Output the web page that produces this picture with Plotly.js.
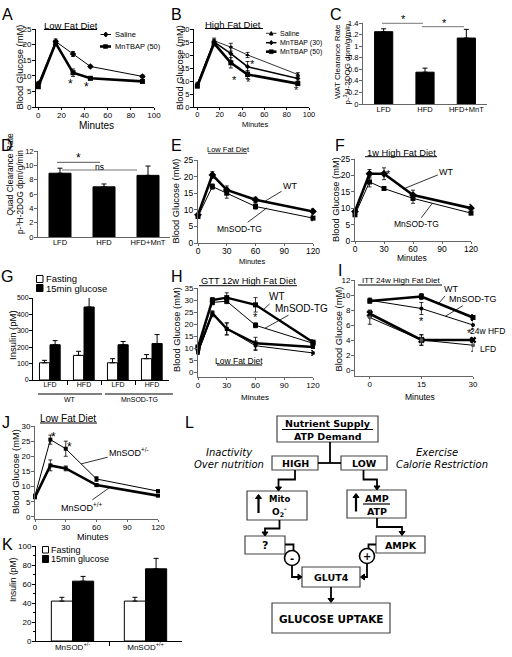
<!DOCTYPE html>
<html><head><meta charset="utf-8">
<script src="https://cdn.plot.ly/plotly-3.0.1.min.js"></script>
<style>html,body{margin:0;padding:0;background:#fff}#chart{width:512px;height:657px}</style>
</head><body><div id="chart"></div>
<script>
// ---------------- DATA ----------------
// A: low fat diet GTT
const minutesA = [0, 15, 30, 45, 90];
const salineA = [7.5, 21, 17, 13, 9.8];
const salineAErr = [0.5, 0.8, 0.8, 0.4, 0.4];
const mntbap50A = [6.5, 20.5, 11, 9.2, 8.2];
const mntbap50AErr = [0.5, 0.8, 1.2, 0.5, 0.4];
// B: high fat diet GTT
const minutesB = [0, 15, 30, 45, 90];
const salineB = [9, 25.5, 23, 20, 12.5];
const salineBErr = [0.5, 1, 1.5, 1, 0.7];
const mntbap30B = [8.5, 25, 20.5, 15.5, 11];
const mntbap30BErr = [0.5, 1, 2.8, 2, 1];
const mntbap50B = [8, 24.5, 17, 12.5, 9];
const mntbap50BErr = [0.5, 1, 2, 1.5, 0.5];
// C, D: clearance rates
const groupsCD = ['LFD', 'HFD', 'HFD+MnT'];
const watClearance = [1.25, 0.55, 1.14];
const watClearanceErr = [0.05, 0.07, 0.15];
const quadClearance = [8.9, 7.0, 8.6];
const quadClearanceErr = [0.7, 0.4, 1.3];
// E, F: GTT WT vs MnSOD-TG
const minutesEF = [0, 15, 30, 60, 120];
const wtE = [8.5, 20.5, 16, 13, 9.5];
const wtEErr = [0.5, 1, 1.2, 0.8, 0.8];
const tgE = [8, 17, 15, 11, 7.5];
const tgEErr = [0.5, 0.8, 1.5, 0.8, 0.8];
const wtF = [9, 20.5, 20.5, 14, 10];
const wtFErr = [0.5, 1.3, 1.8, 1.5, 1.2];
const tgF = [8, 18, 16, 13, 8.5];
const tgFErr = [0.5, 1.5, 0.5, 1.5, 0.5];
// G: insulin
const dietG = ['LFD', 'HFD', 'LFD', 'HFD'];
const genotypeG = ['WT', 'MnSOD-TG'];
const fastingG = [105, 150, 105, 130];
const fastingGErr = [15, 25, 25, 25];
const glucoseG = [215, 445, 215, 222];
const glucoseGErr = [25, 70, 20, 55];
// H: GTT 12w HFD
const minutesH = [0, 15, 30, 60, 120];
const wtHfdH = [10.5, 30, 31, 28, 12.5];
const wtHfdHErr = [0.5, 1, 2, 3, 1];
const tgHfdH = [10, 29, 29.5, 19.5, 12];
const tgHfdHErr = [0.5, 1, 1, 1, 0.5];
const wtLfdH = [9, 24.5, 18, 12, 10.5];
const wtLfdHErr = [0.5, 1, 2.5, 2.5, 0.5];
const tgLfdH = [8, 24, 18, 11, 8];
const tgLfdHErr = [0.5, 1, 2.5, 2, 1];
// I: ITT 24w HFD
const minutesI = [0, 15, 30];
const wtHfdI = [9.2, 9.8, 7];
const wtHfdIErr = [0.3, 0.4, 0.4];
const tgHfdI = [9.3, 8.2, 6];
const tgHfdIErr = [0.3, 0.8, 0.6];
const wtLfdI = [7.5, 4, 4];
const wtLfdIErr = [0.5, 0.7, 0.3];
const tgLfdI = [7, 4, 3.3];
const tgLfdIErr = [0.9, 0.7, 0.8];
// J: MnSOD+/- vs +/+
const minutesJ = [0, 15, 30, 60, 120];
const hetJ = [7, 25.5, 22.5, 12.5, 8.5];
const hetJErr = [0.5, 1.5, 2.5, 0.8, 0.5];
const wtJ = [6.5, 17, 16, 10.5, 7];
const wtJErr = [0.5, 1.8, 0.8, 0.5, 0.3];
// K: insulin
const genotypeK = ['MnSOD<sup>+/-</sup>', 'MnSOD<sup>+/+</sup>'];
const fastingK = [42, 42];
const fastingKErr = [4, 4];
const glucoseK = [63, 76];
const glucoseKErr = [5, 11];
// legend labels
const legendA = ['Saline', 'MnTBAP (50)'];
const legendB = ['Saline', 'MnTBAP (30)', 'MnTBAP (50)'];
const legendInsulin = ['Fasting', '15min glucose'];

// ---------------- HELPERS ----------------
const FONT = 'Liberation Sans, Arial, Helvetica, sans-serif';
const DJ = 'DejaVu Sans, Verdana, sans-serif';
const W = 512, H = 657;
const px = v => v / W;
const py = v => 1 - v / H;
const sfx = n => (n === 1 ? '' : String(n));

const layout = {
  width: W, height: H, margin: {l: 0, r: 0, t: 0, b: 0},
  paper_bgcolor: '#fff', plot_bgcolor: 'rgba(0,0,0,0)',
  font: {family: FONT, size: 8, color: '#000'},
  showlegend: false, annotations: [], shapes: []
};

function baseAxis(fs, col) {
  return {showline: true, linecolor: col || '#000', linewidth: 1, ticks: 'outside', ticklen: 3,
    tickwidth: 1, tickcolor: col || '#000', showgrid: false, zeroline: false, fixedrange: true,
    tickfont: {family: FONT, size: fs, color: '#000'}};
}
function plot(n, xr, yr, xo, yo, fs, col) {
  const s = sfx(n);
  layout['xaxis' + s] = Object.assign(baseAxis(fs, col), {domain: [px(xr[0]), px(xr[1])], anchor: 'y' + s,
    ticklen: 2, ticklabelstandoff: -2}, xo);
  layout['yaxis' + s] = Object.assign(baseAxis(fs, col), {domain: [py(yr[1]), py(yr[0])], anchor: 'x' + s,
    ticklabelstandoff: -1}, yo);
}
const traces = [];
function line(n, xs, ys, err, o) {
  const s = sfx(n);
  traces.push({
    type: 'scatter', mode: 'lines+markers', x: xs, y: ys, xaxis: 'x' + s, yaxis: 'y' + s,
    cliponaxis: false, showlegend: false, name: o.name || '',
    line: {color: '#000', width: o.w || 1},
    marker: {color: o.mc || '#000', symbol: o.sym || 'square', size: o.ms || 5},
    error_y: {type: 'data', array: err, visible: true, color: '#000', thickness: 0.8, width: 2}
  });
}
function bars(n, xs, ys, err, o) {
  const s = sfx(n);
  traces.push({
    type: 'bar', x: xs, y: ys, xaxis: 'x' + s, yaxis: 'y' + s, showlegend: false, name: o.name || '',
    width: o.width, offset: o.offset,
    marker: {color: o.fill, line: {color: '#000', width: 1}},
    error_y: {type: 'data', symmetric: false, array: err, arrayminus: err.map(() => 0), color: '#000', thickness: 1, width: 2.5}
  });
}
function txt(t, x, y, size, o) {
  layout.annotations.push(Object.assign({text: t, xref: 'paper', yref: 'paper', x: px(x), y: py(y),
    showarrow: false, xanchor: 'center', yanchor: 'middle',
    font: {family: FONT, size: size, color: '#000'}}, o || {}));
}
function ltxt(t, x, y, size) { txt(t, x, y, size, {xanchor: 'left'}); }
function rot(t, x, y, size) { txt(t, x, y, size, {textangle: -90}); }
function dtxt(t, n, x, y, size) {
  const s = sfx(n);
  layout.annotations.push({text: t, xref: 'x' + s, yref: 'y' + s, x: x, y: y, showarrow: false,
    font: {family: FONT, size: size, color: '#000'}});
}
function ptr(t, n, x, y, ax, ay, size) {
  const s = sfx(n);
  layout.annotations.push({text: t, xref: 'x' + s, yref: 'y' + s, x: x, y: y, ax: ax, ay: ay,
    showarrow: true, arrowhead: 0, arrowwidth: 0.8, arrowcolor: '#000', standoff: 0,
    font: {family: FONT, size: size, color: '#000'}});
}
function seg(x0, y0, x1, y1, w, c) {
  layout.shapes.push({type: 'line', xref: 'paper', yref: 'paper', x0: px(x0), y0: py(y0), x1: px(x1), y1: py(y1),
    line: {color: c || '#000', width: w || 1}});
}
function pathOf(pts, close) {
  return pts.map((p, i) => (i ? 'L' : 'M') + px(p[0]).toFixed(5) + ',' + py(p[1]).toFixed(5)).join(' ') + (close ? ' Z' : '');
}
function poly(pts, w) {
  layout.shapes.push({type: 'path', xref: 'paper', yref: 'paper', path: pathOf(pts), line: {color: '#000', width: w || 1.8}});
}
function fillPath(pts, fill) {
  layout.shapes.push({type: 'path', xref: 'paper', yref: 'paper', path: pathOf(pts, true), fillcolor: fill || '#000', line: {color: '#000', width: 1}});
}
function tri(x, y, dir) {
  const s = 4, h = 3;
  let p;
  if (dir === 'down') p = [[x - h, y - s], [x + h, y - s], [x, y]];
  else if (dir === 'up') p = [[x - h, y + s], [x + h, y + s], [x, y]];
  else if (dir === 'right') p = [[x - s, y - h], [x - s, y + h], [x, y]];
  else p = [[x + s, y - h], [x + s, y + h], [x, y]];
  fillPath(p);
}
function rect(x0, y0, x1, y1, fill, lw, lc) {
  layout.shapes.push({type: 'rect', xref: 'paper', yref: 'paper', x0: px(x0), x1: px(x1), y0: py(y1), y1: py(y0),
    line: {color: lc || '#000', width: lw == null ? 1 : lw}, fillcolor: fill || 'rgba(0,0,0,0)'});
}
function box(x0, y0, x1, y1) { rect(x0, y0, x1, y1, null, 1.2, '#444'); }
function circ(cx, cy, r) {
  layout.shapes.push({type: 'circle', xref: 'paper', yref: 'paper', x0: px(cx - r), x1: px(cx + r), y0: py(cy + r), y1: py(cy - r),
    line: {color: '#000', width: 1.6}, fillcolor: '#fff'});
}
function mark(x, y, sym, s) {
  if (sym === 'square') rect(x - s / 2, y - s / 2, x + s / 2, y + s / 2, '#000', 0.5);
  else if (sym === 'diamond') fillPath([[x, y - s / 2 - 0.5], [x + s / 2, y], [x, y + s / 2 + 0.5], [x - s / 2, y]]);
  else fillPath([[x, y - s / 2], [x + s / 2, y + s / 2], [x - s / 2, y + s / 2]]);
}
function legLine(x0, x1, y, w, sym, s, label, tx, fs) {
  seg(x0, y, x1, y, w);
  mark((x0 + x1) / 2, y, sym, s);
  ltxt(label, tx, y, fs);
}

// ---------------- AXES ----------------
const G1 = '#000', GR = '#666';
plot(1, [36, 154], [29, 107], {range: [-2, 100], tickvals: [0, 20, 40, 60, 80, 100]}, {range: [0, 25], dtick: 5}, 8, G1);
plot(2, [194, 309], [29, 107], {range: [-3, 100], dtick: 20}, {range: [0, 30], dtick: 5}, 7.5, G1);
plot(3, [363, 487], [23, 104], {type: 'category', ticks: ''}, {range: [0, 1.4], dtick: 0.2}, 7.5, GR);
plot(4, [38, 170], [151, 237], {type: 'category', ticks: ''}, {range: [0, 12], dtick: 2}, 7.5, GR);
plot(5, [198, 313], [160, 243], {range: [0, 120], dtick: 30}, {range: [0, 25], dtick: 5}, 8.5, GR);
plot(6, [355, 471], [159, 241], {range: [0, 120], dtick: 30}, {range: [0, 25], dtick: 5}, 8.5, GR);
plot(7, [33, 169], [298, 380], {range: [-0.5, 3.5], tickvals: [0, 1, 2, 3], ticktext: dietG, ticks: '',
  minor: {tickvals: [0.5, 1.5, 2.5], ticks: 'outside', ticklen: 4, tickcolor: '#000'}}, {range: [0, 500], dtick: 100}, 7, G1);
plot(8, [198, 313], [288, 377], {range: [0, 120], dtick: 30}, {range: [-2, 35], tickvals: [0, 5, 10, 15, 20, 25, 30, 35]}, 8, GR);
plot(9, [355, 473], [280, 376], {range: [-4.3, 30], tickvals: [0, 15, 30]}, {range: [-0.8, 12], tickvals: [0, 2, 4, 6, 8, 10, 12]}, 8, GR);
plot(10, [35, 158], [426, 519], {range: [0, 120], dtick: 30}, {range: [-0.7, 30], tickvals: [0, 5, 10, 15, 20, 25, 30]}, 8, GR);
plot(11, [36, 182], [546, 641], {range: [-0.5, 1.5], tickvals: [0, 1], ticktext: genotypeK, ticks: '',
  minor: {tickvals: [0.5], ticks: 'outside', ticklen: 4, tickcolor: '#000'}},
  {range: [0, 100], dtick: 20, minor: {dtick: 10, ticks: 'outside', ticklen: 2, tickcolor: '#000'}}, 8, G1);

// ---------------- TRACES ----------------
line(1, minutesA, salineA, salineAErr, {w: 1, sym: 'diamond', ms: 5, name: legendA[0]});
line(1, minutesA, mntbap50A, mntbap50AErr, {w: 2.6, sym: 'square', ms: 5, name: legendA[1]});
line(2, minutesB, salineB, salineBErr, {w: 0.8, sym: 'triangle-up', ms: 4, name: legendB[0]});
line(2, minutesB, mntbap30B, mntbap30BErr, {w: 1.5, sym: 'diamond', ms: 4, name: legendB[1]});
line(2, minutesB, mntbap50B, mntbap50BErr, {w: 2.6, sym: 'square', ms: 5, name: legendB[2]});
bars(3, groupsCD, watClearance, watClearanceErr, {width: 0.44, offset: -0.22, fill: '#000'});
bars(4, groupsCD, quadClearance, quadClearanceErr, {width: 0.5, offset: -0.25, fill: '#000'});
line(5, minutesEF, wtE, wtEErr, {w: 2.6, sym: 'diamond', ms: 6, name: 'WT'});
line(5, minutesEF, tgE, tgEErr, {w: 1, sym: 'square', ms: 5, name: 'MnSOD-TG'});
line(6, minutesEF, wtF, wtFErr, {w: 2.6, sym: 'diamond', ms: 6, name: 'WT'});
line(6, minutesEF, tgF, tgFErr, {w: 1, sym: 'square', ms: 5, name: 'MnSOD-TG'});
const xG = [0, 1, 2, 3];
bars(7, xG, fastingG, fastingGErr, {width: 0.3, offset: -0.31, fill: '#fff', name: legendInsulin[0]});
bars(7, xG, glucoseG, glucoseGErr, {width: 0.3, offset: 0.0, fill: '#000', name: legendInsulin[1]});
line(8, minutesH, wtHfdH, wtHfdHErr, {w: 2.4, sym: 'square', ms: 5});
line(8, minutesH, tgHfdH, tgHfdHErr, {w: 1, sym: 'square', ms: 5});
line(8, minutesH, wtLfdH, wtLfdHErr, {w: 2.4, sym: 'square', ms: 4});
line(8, minutesH, tgLfdH, tgLfdHErr, {w: 1, sym: 'circle', ms: 4});
line(9, minutesI, wtHfdI, wtHfdIErr, {w: 2.6, sym: 'square', ms: 5});
line(9, minutesI, tgHfdI, tgHfdIErr, {w: 1, sym: 'circle', ms: 4});
line(9, minutesI, wtLfdI, wtLfdIErr, {w: 2.6, sym: 'x', ms: 6});
line(9, minutesI, tgLfdI, tgLfdIErr, {w: 1, sym: 'circle', ms: 4, mc: '#555'});
line(10, minutesJ, hetJ, hetJErr, {w: 1, sym: 'square', ms: 4});
line(10, minutesJ, wtJ, wtJErr, {w: 2.6, sym: 'square', ms: 4});
const xK = [0, 1];
bars(11, xK, fastingK, fastingKErr, {width: 0.29, offset: -0.29, fill: '#fff', name: legendInsulin[0]});
bars(11, xK, glucoseK, glucoseKErr, {width: 0.29, offset: 0.0, fill: '#000', name: legendInsulin[1]});

// ---------------- LEGENDS (drawn) ----------------
legLine(100.5, 111, 34.5, 1, 'diamond', 4, legendA[0], 113, 7.5);
legLine(100, 111, 46.5, 2.6, 'square', 4, legendA[1], 113, 7.5);
legLine(266, 276.5, 33.3, 0.8, 'triangle', 3.5, legendB[0], 278, 7);
legLine(266, 276.5, 42.7, 1.5, 'diamond', 3.5, legendB[1], 278, 7);
legLine(266, 276.5, 51.7, 2.6, 'square', 4, legendB[2], 278, 7);
rect(36.5, 275.5, 43, 282.5, '#fff', 1); ltxt(legendInsulin[0], 43.5, 279, 9.5);
rect(36.5, 284.5, 43, 291.5, '#000', 1); ltxt(legendInsulin[1], 43.5, 288.3, 9.5);
rect(42.5, 546.5, 48.5, 553, '#fff', 1); ltxt(legendInsulin[0], 49, 550, 9);
rect(42.5, 555.5, 48.5, 562.5, '#000', 1); ltxt(legendInsulin[1], 49, 559.3, 9);

// ---------------- TEXT ----------------
[['A', 7, 14], ['B', 176, 14], ['C', 336, 14], ['D', 7, 145], ['E', 176, 145], ['F', 340, 145],
 ['G', 7, 276], ['H', 177, 276], ['I', 340, 270], ['J', 6, 422], ['K', 7, 544], ['L', 189, 422]]
  .forEach(l => txt(l[0], l[1], l[2], 16));

rot('Blood Glucose (mM)', 19.5, 67, 9.3);
rot('Blood Glucose (mM)', 180, 68, 9.3);
rot('WAT Clearance Rate', 337, 62, 8);
rot('p-<sup>3</sup>H-2DOG dpm/g/min', 346.5, 64, 8);
rot('Quad Clearance Rate', 9.5, 175, 8.5);
rot('p-<sup>3</sup>H-2DOG dpm/g/min', 20, 192, 8.3);
rot('Blood Glucose (mM)', 175.5, 201, 9.3);
rot('Blood Glucose (mM)', 336, 200, 9.3);
rot('Insulin (pM)', 12, 335, 9.5);
rot('Blood Glucose (mM)', 177, 330, 9.3);
rot('Blood Glucose (mM)', 338.5, 329, 9.3);
rot('Blood Glucose (mM)', 16, 472, 9.3);
rot('Insulin (pM)', 13, 580, 8.5);

txt('Minutes', 96, 125, 10);
txt('Minutes', 255, 124, 7.5);
txt('Minutes', 252, 261, 7.5);
txt('Minutes', 412, 258, 8.5);
txt('Minutes', 255, 397, 8);
txt('Minutes', 420, 397, 8.5);
txt('Minutes', 93, 537, 9);

txt('Low Fat Diet', 71, 25, 9.5); seg(44, 29.5, 97, 29.5, 1);
txt('High Fat Diet', 233, 24, 9.5); seg(205, 28.5, 263, 28.5, 1);
txt('Low Fat Diet', 228, 149.5, 7.5); seg(208, 153.3, 247, 153.3, 0.8);
txt('1w High Fat Diet', 401, 152.5, 9.3); seg(365, 156.7, 437, 156.7, 1);
txt('GTT 12w High Fat Diet', 248, 280.5, 9.3); seg(199, 285.7, 297, 285.7, 1);
txt('Low Fat Diet', 239, 360.5, 8.5); seg(217, 365, 262, 365, 1);
txt('ITT 24w High Fat Diet', 401, 280, 8); seg(358, 285, 442, 285, 1);
txt('Low Fat Diet', 68, 418.5, 10); seg(40, 423, 97, 423, 1);

dtxt('*', 1, 28, 7.5, 12); dtxt('*', 1, 42, 6.5, 12);
dtxt('*', 2, 33, 10.5, 11); dtxt('*', 2, 49, 16.5, 11); dtxt('*', 2, 46, 9.5, 11); dtxt('*', 2, 89, 6.5, 11);
seg(382, 23.3, 423, 23.3, 1, '#777'); txt('*', 403, 19.5, 11);
seg(422, 26.7, 464, 26.7, 1, '#777'); txt('*', 444, 23, 11);
seg(57, 162.3, 100, 162.3, 1.2, '#777'); txt('*', 78, 158, 12);
seg(62, 170, 137, 170, 1.2, '#777'); txt('ns', 99, 166.5, 8.5);
ptr('WT', 5, 70, 12.6, 25, -15, 9);
ptr('MnSOD-TG', 5, 72, 10.6, -28, 21, 8.5);
dtxt('*', 6, 35, 20.5, 11);
ptr('WT', 6, 51, 16, 42, -17, 9);
ptr('MnSOD-TG', 6, 80, 11.5, -16, 21, 8.5);
seg(38, 394, 102, 394, 1); seg(105, 394, 173, 394, 1);
txt(genotypeG[0], 70, 399.5, 7); txt(genotypeG[1], 139, 399.5, 7);
dtxt('*', 8, 60, 23, 11);
ptr('WT', 8, 68, 25.9, 14, -13, 10);
ptr('MnSOD-TG', 8, 70, 18.3, 36, -20, 10);
dtxt('*', 9, 15, 6.5, 11); dtxt('*', 9, 29, 5, 11);
ptr('WT', 9, 20, 8.87, 12, -14, 9);
ptr('MnSOD-TG', 9, 22, 7.17, 28, -17, 9);
txt('24w HFD', 487, 331, 8.5);
txt('LFD', 488, 349, 8.5);
dtxt('*', 10, 18, 26.5, 12); dtxt('*', 10, 34, 23, 12);
ptr('MnSOD<sup>+/-</sup>', 10, 45, 17.5, 48, -12, 9);
ptr('MnSOD<sup>+/+</sup>', 10, 73, 9.74, -28, 20, 9);

// ---------------- L: flowchart ----------------
const BF = {family: DJ, size: 9.5, color: '#000', weight: 'bold'};
function btxt(t, x, y, size) { txt(t, x, y, size, {font: Object.assign({}, BF, {size: size})}); }
function itxt(t, x, y) { txt(t, x, y, 10, {font: {family: DJ, size: 10, color: '#000', style: 'italic'}}); }

box(277, 416, 378, 442);
seg(282, 429.5, 373, 429.5, 1.2);
btxt('Nutrient Supply', 327.5, 423, 9.5);
btxt('ATP Demand', 327.5, 436.5, 9.5);
box(272, 456, 318, 470); btxt('HIGH', 295, 463.5, 9.5);
box(341, 456, 387, 470); btxt('LOW', 364, 463.5, 9.5);
poly([[330, 442], [330, 463]]); poly([[318, 463], [341, 463]]);
itxt('Inactivity', 229, 452); itxt('Over nutrition', 229, 464.5);
itxt('Exercise', 437, 452); itxt('Calorie Restriction', 442, 464.5);

box(247, 491, 307, 520);
poly([[258.5, 513], [258.5, 499]], 2.2); tri(258.5, 494.5, 'up');
btxt('Mito', 279, 499, 8.5);
btxt('O<sub>2</sub><sup>-</sup>', 279, 511, 9);
box(347, 490, 406, 518);
poly([[356, 511.5], [356, 498]], 2.2); tri(356, 493.5, 'up');
btxt('AMP', 376.5, 498, 9.5); seg(363, 504, 390, 504, 1.2); btxt('ATP', 376.5, 511.5, 9.5);

poly([[295, 470], [295, 479.5], [278.5, 479.5], [278.5, 487]]); tri(278.5, 491, 'down');
poly([[363.5, 470], [363.5, 479.5], [377, 479.5], [377, 486]]); tri(377, 490, 'down');

box(245, 536, 285, 554); btxt('?', 265, 545.5, 11);
box(376, 536, 425, 553); btxt('AMPK', 400.5, 545, 9.5);
poly([[279.5, 520], [279.5, 528.5], [265, 528.5], [265, 532.5]]); tri(265, 536, 'down');
poly([[377, 518], [377, 527], [402, 527], [402, 532]]); tri(402, 535.5, 'down');

poly([[285, 544.5], [293.5, 544.5], [293.5, 551]]);
poly([[376, 544.5], [368.5, 544.5], [368.5, 549]]);
circ(292, 558, 7.5); btxt('-', 292, 558, 10);
circ(367, 556, 7.5); btxt('+', 367, 556, 10);
box(302, 567, 360, 587); btxt('GLUT4', 331, 577, 9.5);
poly([[292, 565.5], [292, 577], [298.5, 577]]); tri(302, 577, 'right');
poly([[367, 563.5], [367, 577], [363.5, 577]]); tri(360.5, 577, 'left');
poly([[331, 587], [331, 599]]); tri(331, 602.5, 'down');
box(272, 603, 390, 633); btxt('GLUCOSE UPTAKE', 331, 618.5, 10.5);

Plotly.newPlot('chart', traces, layout, {displayModeBar: false, staticPlot: true});
</script>
</body></html>
